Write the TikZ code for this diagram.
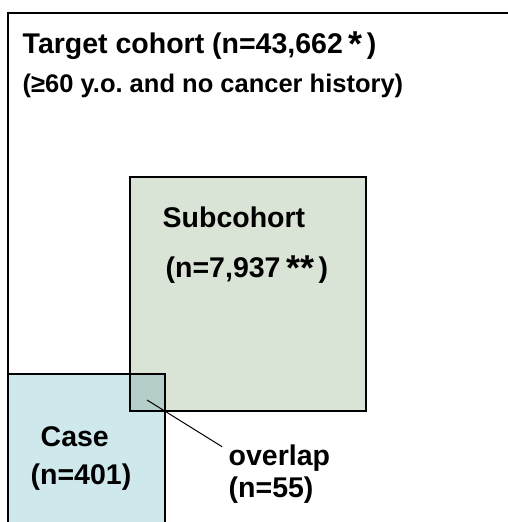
\documentclass[tikz,border=0pt]{standalone}
\usepackage{fontspec}
\setmainfont{Liberation Sans}
\usetikzlibrary{calc}

\definecolor{subfill}{RGB}{218,228,214}
\definecolor{casefill}{RGB}{207,232,236}
\definecolor{overfill}{RGB}{180,206,202}

\newcommand\astr[1]{\hspace{6pt}\raisebox{-3pt}{\fontsize{36}{36}\selectfont #1}\hspace{4pt}}

\tikzset{
  bigtxt/.style={font=\bfseries\fontsize{28.5}{32}\selectfont},
  smalltxt/.style={font=\bfseries\fontsize{25.5}{28}\selectfont}
}

\begin{document}
\frenchspacing
\begin{tikzpicture}[x=1pt,y=-1pt,line width=1.4pt]

      \clip (0,0) rectangle (508,522);
      \fill[white] (0,0) rectangle (508,522);

      % boxes
      \begin{scope}[every node/.style={draw,rectangle,anchor=north west,inner sep=0pt,outer sep=0pt}]
        \node[minimum width=560, minimum height=560] (target) at (8,13) {};
        \node[fill=subfill, minimum width=236, minimum height=234] (sub) at (130,177) {};
        \node[fill=casefill, minimum width=157, minimum height=200] (case) at (8,374) {};
        \node[fill=overfill, minimum width=35, minimum height=37] (both) at (130,374) {};
      \end{scope}

      % labels
      \begin{scope}[every node/.style={anchor=base west,inner sep=0pt,bigtxt}]
        \node (title)    at (22,53)  {Target cohort (n=43,662\astr{*})};
        \node[smalltxt] (criteria) at (22,92) {(≥60 y.o. and no cancer history)};
        \node (subname)  at (162,227) {Subcohort};
        \node (subn)     at (165,277) {(n=7,937\astr{**})};
        \node (casename) at (40,446) {Case};
        \node (casen)    at (30,484) {(n=401)};
        \node (ovname)   at (228,465) {overlap};
        \node (ovn)      at (228,497) {(n=55)};
      \end{scope}

      \coordinate (ovpt) at (147,400);
      \draw[line width=1pt] (ovpt) -- ($(ovname.north west)+(-6,3)$);

    \end{tikzpicture}
\end{document}
